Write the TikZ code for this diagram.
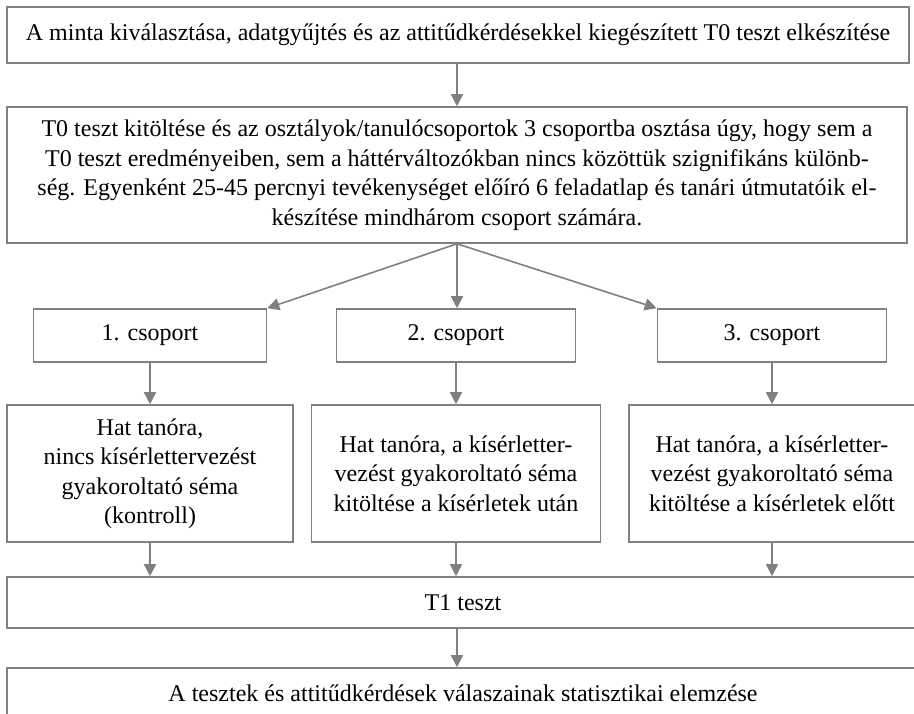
\documentclass[tikz,border=0pt]{standalone}
\usepackage{fontspec}
\setmainfont{Liberation Serif}
\usetikzlibrary{arrows.meta}
\definecolor{linegray}{RGB}{128,128,128}
\tikzset{
  box/.style={draw=linegray, line width=1.6pt, fill=white, inner sep=0pt, align=center,
              font=\fontsize{24}{29.5}\selectfont},
  arr/.style={draw=linegray, line width=1.6pt, -{Triangle[length=12pt,width=12pt]}}
}
\begin{document}
\begin{tikzpicture}[x=1pt,y=-1pt]
\useasboundingbox (0,0) rectangle (914,714);
\node[box, minimum width=902pt, minimum height=56pt] (A) at (458,35)
  {A minta kiválasztása, adatgyűjtés és az attitűdkérdésekkel kiegészített T0 teszt elkészítése};
\node[box, minimum width=900pt, minimum height=136pt] (B) at (457,175)
  {T0 teszt kitöltése és az osztályok/tanulócsoportok 3 csoportba osztása úgy, hogy sem a\\
   T0 teszt eredményeiben, sem a háttérváltozókban nincs közöttük szignifikáns különb-\\
   ség. Egyenként 25-45 percnyi tevékenységet előíró 6 feladatlap és tanári útmutatóik el-\\
   készítése mindhárom csoport számára.};
\node[box, minimum width=233pt, minimum height=53pt] (G1) at (150,335.5) {1. csoport};
\node[box, minimum width=239pt, minimum height=53pt] (G2) at (456,335.5) {2. csoport};
\node[box, minimum width=229pt, minimum height=53pt] (G3) at (772,335.5) {3. csoport};
\node[box, minimum width=286pt, minimum height=137pt] (L) at (150,473.5)
  {Hat tanóra,\\ nincs kísérlettervezést\\ gyakoroltató séma\\ (kontroll)};
\node[box, minimum width=289pt, minimum height=137pt] (M) at (456,473.5)
  {Hat tanóra, a kísérletter-\\ vezést gyakoroltató séma\\ kitöltése a kísérletek után};
\node[box, minimum width=286pt, minimum height=137pt] (R) at (772,473.5)
  {Hat tanóra, a kísérletter-\\ vezést gyakoroltató séma\\ kitöltése a kísérletek előtt};
\node[box, minimum width=912pt, minimum height=51pt] (T) at (463,602.5) {T1 teszt};
\node[box, minimum width=912pt, minimum height=50pt] (F) at (463,693)
  {A tesztek és attitűdkérdések válaszainak statisztikai elemzése};
\draw[arr] (A.south -| B.south) -- (B.north);
\draw[arr] (B.south) -- (G1.north east);
\draw[arr] (B.south) -- (B.south |- G2.north);
\draw[arr] (B.south) -- (G3.north west);
\draw[arr] (G1.south) -- (L.north);
\draw[arr] (G2.south) -- (M.north);
\draw[arr] (G3.south) -- (R.north);
\draw[arr] (L.south) -- (L.south |- T.north);
\draw[arr] (M.south) -- (M.south |- T.north);
\draw[arr] (R.south) -- (R.south |- T.north);
\draw[arr] (B.south |- T.south) -- (B.south |- F.north);
\end{tikzpicture}
\end{document}
